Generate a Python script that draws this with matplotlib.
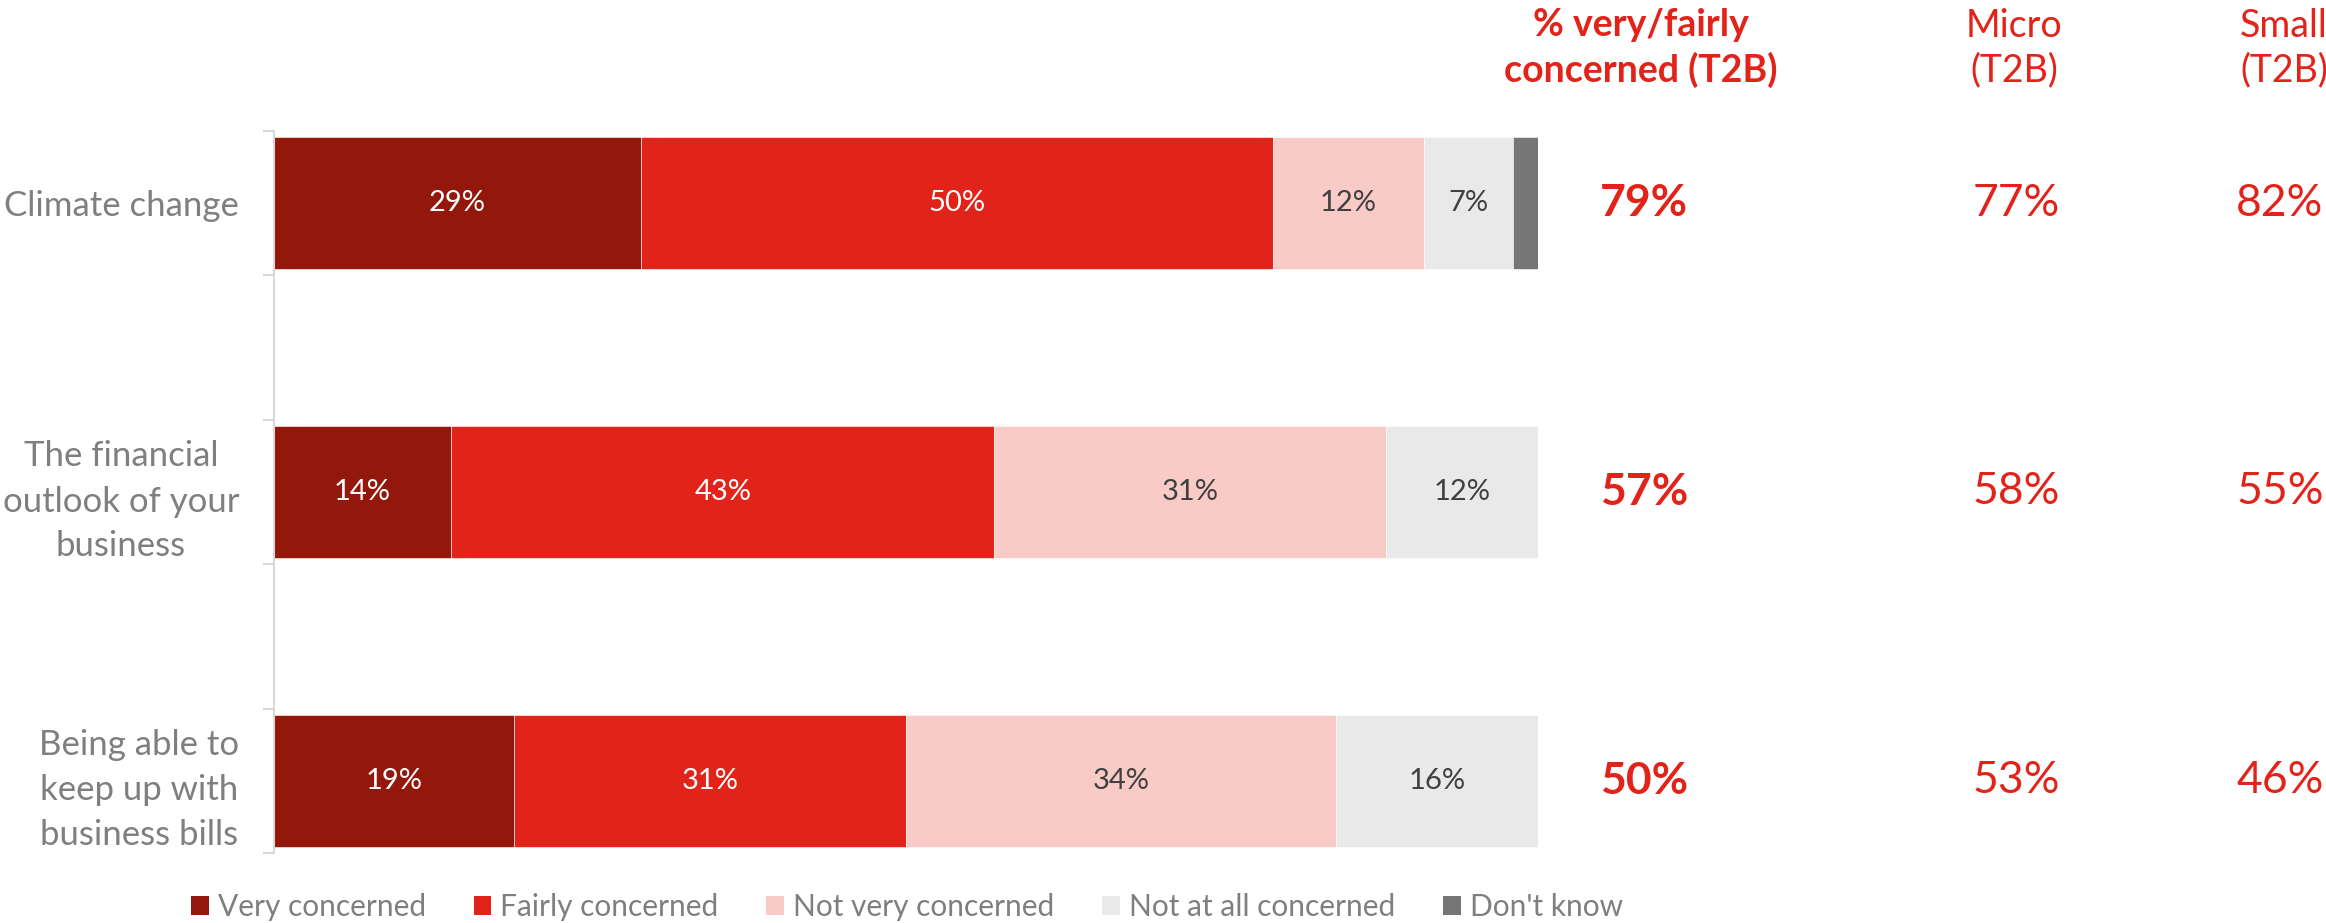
import numpy as np
import matplotlib
matplotlib.use('Agg')
import matplotlib.pyplot as plt
from matplotlib.patches import Patch
from matplotlib.transforms import blended_transform_factory

plt.rcParams['font.family'] = ['Lato', 'DejaVu Sans']

# data
categories = ['Climate change', 'The financial\noutlook of your\nbusiness',
              'Being able to\nkeep up with\nbusiness bills']
series_names = ['Very concerned', 'Fairly concerned', 'Not very concerned',
                'Not at all concerned', "Don't know"]
very = [29, 14, 19]
fairly = [50, 43, 31]
not_very = [12, 31, 34]
not_at_all = [7, 12, 16]
dont_know = [2, 0, 0]
t2b_total = ['79%', '57%', '50%']
t2b_micro = ['77%', '58%', '53%']
t2b_small = ['82%', '55%', '46%']

colors = ['#93170b', '#e2231a', '#f9cbc6', '#e9e9e9', '#767676']
label_colors = ['white', 'white', '#404040', '#404040', None]
red = '#e2231a'
gray_txt = '#7f7f7f'

W, H = 2326, 923
fig = plt.figure(figsize=(W / 100, H / 100), dpi=100)
ax = fig.add_axes([274 / W, 1 - 853 / H, 1264 / W, 722 / H])

# bars sit in every other slot, like the blank categories in the original
ypos = np.array([0, 2, 4])
bar_h = 0.913
left = np.zeros(3)
for vals, col, lc in zip([very, fairly, not_very, not_at_all, dont_know],
                         colors, label_colors):
    vals = np.array(vals, dtype=float)
    ax.barh(ypos, vals, left=left, height=bar_h, color=col,
            edgecolor='white', linewidth=0.4)
    if lc is not None:
        for y, l, v in zip(ypos, left, vals):
            if v > 0:
                ax.text(l + v / 2, y, f'{int(v)}%', ha='center', va='center',
                        fontsize=21, color=lc)
    left += vals

ax.set_xlim(0, 100)
ax.set_ylim(4.5, -0.5)
ax.set_xticks([])
for s in ['top', 'right', 'bottom']:
    ax.spines[s].set_visible(False)
ax.spines['left'].set_color('#d9d9d9')
ax.spines['left'].set_linewidth(1.5)

ax.set_yticks(ypos)
ax.set_yticklabels(categories, fontsize=25, color=gray_txt,
                   multialignment='center', linespacing=1.5)
ax.tick_params(axis='y', which='major', length=0, pad=25)
ax.set_yticks(np.arange(-0.5, 5.0, 1.0), minor=True)
ax.tick_params(axis='y', which='minor', length=8, width=1.5,
               color='#d9d9d9', direction='out')

# T2B columns
tr = blended_transform_factory(fig.transFigure, ax.transData)
col_x = [1644 / W, 2016 / W, 2280 / W]
for y, a, b, c in zip(ypos, t2b_total, t2b_micro, t2b_small):
    ax.text(col_x[0], y, a, transform=tr, ha='center', va='center',
            fontsize=32, fontweight='bold', color=red)
    ax.text(col_x[1], y, b, transform=tr, ha='center', va='center',
            fontsize=32, color=red)
    ax.text(col_x[2], y, c, transform=tr, ha='center', va='center',
            fontsize=32, color=red)

head_y = 1 - 48 / H
fig.text(1641 / W, head_y, '% very/fairly\nconcerned (T2B)', ha='center',
         va='center', fontsize=27, fontweight='bold', color=red,
         linespacing=1.3)
fig.text(2014 / W, head_y, 'Micro\n(T2B)', ha='center', va='center',
         fontsize=27, color=red, linespacing=1.3)
fig.text(2284 / W, head_y, 'Small\n(T2B)', ha='center', va='center',
         fontsize=27, color=red, linespacing=1.3)

handles = [Patch(facecolor=c, edgecolor='none') for c in colors]
leg = fig.legend(handles, series_names, loc='center', ncol=5,
                 bbox_to_anchor=(907 / W, 1 - 907 / H), frameon=False,
                 fontsize=21.5, handlelength=0.6, handleheight=0.6,
                 handletextpad=0.3, columnspacing=1.6)
for t in leg.get_texts():
    t.set_color(gray_txt)

fig.savefig('out.png', dpi=100)
